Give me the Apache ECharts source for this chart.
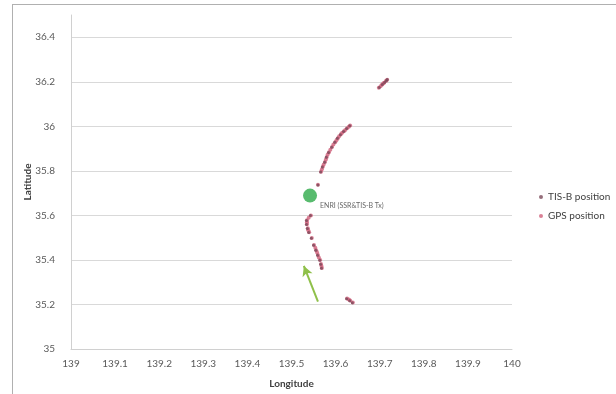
<!DOCTYPE html>
<html><head><meta charset="utf-8">
<script src="https://cdn.jsdelivr.net/npm/echarts@6/dist/echarts.min.js"></script>
<style>html,body{margin:0;padding:0;background:#fff}#c{width:616px;height:394px}
#f{position:absolute;left:12px;top:4px;width:620px;height:400px;border-left:1px solid #b0b0b0;border-top:1px solid #b0b0b0;pointer-events:none}</style>
</head><body><div id="c"></div><div id="f"></div>
<script>
// [longitude, latitude]
const gpsPoints = [
  [139.698,36.173],[139.702,36.180],[139.705,36.187],[139.708,36.192],[139.710,36.196],[139.714,36.204],[139.717,36.209],
  [139.633,36.004],[139.630,35.998],[139.626,35.991],[139.622,35.984],[139.619,35.978],[139.615,35.971],[139.612,35.964],
  [139.608,35.955],[139.605,35.947],[139.602,35.938],[139.599,35.929],[139.595,35.918],[139.592,35.907],[139.588,35.895],
  [139.585,35.884],[139.582,35.873],[139.580,35.862],[139.578,35.851],[139.576,35.840],[139.573,35.829],
  [139.571,35.818],[139.569,35.807],[139.567,35.796],[139.560,35.738],
  [139.544,35.600],[139.539,35.589],[139.535,35.578],[139.535,35.569],[139.535,35.560],[139.537,35.542],[139.538,35.533],[139.540,35.524],
  [139.546,35.498],[139.551,35.467],[139.554,35.455],[139.556,35.444],[139.558,35.433],[139.560,35.422],[139.562,35.411],[139.565,35.400],
  [139.567,35.382],[139.568,35.373],[139.569,35.364],
  [139.626,35.227],[139.630,35.222],[139.633,35.218],[139.639,35.209]
];
const tisbPoints = [
  [139.699,36.174],[139.706,36.188],[139.711,36.197],[139.715,36.205],[139.717,36.210],
  [139.632,36.003],[139.625,35.990],[139.618,35.977],[139.611,35.962],[139.604,35.946],
  [139.598,35.928],[139.591,35.906],[139.584,35.883],[139.579,35.861],[139.575,35.839],
  [139.570,35.817],[139.566,35.795],[139.560,35.737],
  [139.543,35.599],[139.534,35.577],[139.534,35.559],[139.536,35.541],[139.539,35.523],
  [139.545,35.497],[139.550,35.466],[139.555,35.443],[139.559,35.421],[139.564,35.399],
  [139.566,35.381],[139.568,35.363],
  [139.625,35.226],[139.632,35.217],[139.638,35.208]
];
const stationPoint = [139.542, 35.689];
const stationLabel = 'ENRI (SSR&TIS-B Tx)';
const arrowFrom = [139.560, 35.213];
const arrowTo = [139.528, 35.373];

const chart = echarts.init(document.getElementById('c'));
const lab = {color:'#595959', fontFamily:'Lato', fontSize:10};
chart.setOption({
  animation:false,
  grid:{left:71, right:104, top:15, bottom:42},
  legend:{
    orient:'vertical', left:534, top:187, itemGap:9, itemWidth:4, itemHeight:4,
    textStyle:{color:'#404040', fontFamily:'Lato', fontSize:10},
    data:[{name:'TIS-B position', icon:'circle'},{name:'GPS position', icon:'circle'}]
  },
  xAxis:{
    type:'value', min:139, max:140, interval:0.1,
    name:'Longitude', nameLocation:'middle', nameGap:30, nameMoveOverlap:false,
    nameTextStyle:{color:'#404040', fontFamily:'Lato', fontSize:10, fontWeight:'bold'},
    axisLine:{show:true, lineStyle:{color:'#d0d0d0'}},
    axisTick:{show:false},
    axisLabel:Object.assign({margin:10, formatter:v=>(Math.round(v*10)/10).toString()}, lab),
    splitLine:{show:false}
  },
  yAxis:{
    type:'value', min:35, max:36.5, interval:0.2,
    name:'Latitude', nameLocation:'middle', nameGap:38, nameRotate:90, nameMoveOverlap:false,
    nameTextStyle:{color:'#404040', fontFamily:'Lato', fontSize:10, fontWeight:'bold'},
    axisLine:{show:true, lineStyle:{color:'#d0d0d0'}},
    axisTick:{show:false},
    axisLabel:Object.assign({margin:16, formatter:v=>{const r=Math.round(v*10)/10; return (Math.abs(r*5-Math.round(r*5))<1e-6)? r.toString():'';}}, lab),
    splitLine:{show:true, showMaxLine:false, lineStyle:{color:'#d9d9d9'}}
  },
  series:[
    {
      name:'GPS position', type:'scatter', data:gpsPoints, symbolSize:4,
      itemStyle:{color:'#d0607a'}, z:2
    },
    {
      name:'TIS-B position', type:'scatter', data:tisbPoints, symbolSize:3,
      itemStyle:{color:'#7a4a5a'}, z:3,
      markLine:{
        silent:true, symbol:['none','arrow'], symbolSize:[8,10],
        lineStyle:{color:'#8fc04a', width:2, type:'solid'},
        label:{show:false},
        data:[[{coord:arrowFrom},{coord:arrowTo}]]
      }
    },
    {
      name:'station', type:'scatter', data:[stationPoint], symbolSize:14,
      itemStyle:{color:'#2eaa4a'}, z:4,
      label:{show:true, formatter:stationLabel, position:'right', offset:[-2,10],
        color:'#404040', fontFamily:'Lato', fontSize:7}
    }
  ]
});
</script></body></html>
